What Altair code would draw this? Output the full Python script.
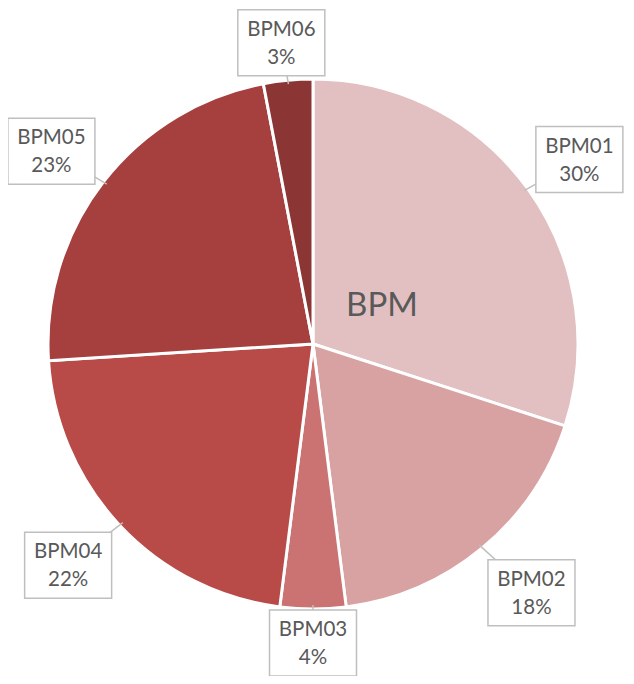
import altair as alt
import pandas as pd

# ---- data ----
categories = ["BPM01", "BPM02", "BPM03", "BPM04", "BPM05", "BPM06"]
values = [30, 18, 4, 22, 23, 3]
colors = ["#E2C0C2", "#D8A1A2", "#CB7373", "#B84A48", "#A5403F", "#8B3535"]
chart_title = "BPM"

# ---- layout (pixels in plot area) ----
W, H = 618, 668
CX, CY = 305, 336
R = 265
LABEL_R = [324, 331, 299, 330, 325, 303]        # label distance from centre
LABEL_DA = [1.3, -1.7, 0.0, 1.1, -1.4, -0.6]   # label angle nudge (degrees)
BOX_W, BOX_H = 87, 66

df = pd.DataFrame({
    "cat": categories,
    "value": values,
    "order": list(range(len(categories))),
    "lr": LABEL_R,
    "da": LABEL_DA,
})

base = alt.Chart(df).transform_joinaggregate(
    total="sum(value)"
).transform_window(
    cum="sum(value)", sort=[alt.SortField("order")], frame=[None, 0]
).transform_calculate(
    mid="(datum.cum - datum.value/2) / datum.total * 2 * PI",
    pct="round(datum.value / datum.total * 100) + '%'",
).transform_calculate(
    lang="datum.mid + datum.da * PI / 180",
).transform_calculate(
    lx=f"{CX} + datum.lr * sin(datum.lang)",
    ly=f"{CY} - datum.lr * cos(datum.lang)",
    ex=f"{CX} + {R - 4} * sin(datum.mid)",
    ey=f"{CY} - {R - 4} * cos(datum.mid)",
    label="[datum.cat, datum.pct]",
).transform_calculate(
    bx1=f"datum.lx - {BOX_W/2}", bx2=f"datum.lx + {BOX_W/2}",
    by1=f"datum.ly - {BOX_H/2}", by2=f"datum.ly + {BOX_H/2}",
)

pie = alt.Chart(df).mark_arc(outerRadius=R, stroke="white", strokeWidth=3).encode(
    theta=alt.Theta("value:Q", stack=True),
    color=alt.Color("cat:N", scale=alt.Scale(domain=categories, range=colors), legend=None),
    order=alt.Order("order:Q"),
    x=alt.value(CX), y=alt.value(CY),
)

leaders = base.mark_rule(color="#BFBFBF", strokeWidth=1.5).encode(
    x=alt.X("ex:Q", scale=None, axis=None),
    y=alt.Y("ey:Q", scale=None, axis=None),
    x2="lx:Q", y2="ly:Q",
)

boxes = base.mark_rect(fill="white", stroke="#BFBFBF", strokeWidth=1.5).encode(
    x=alt.X("bx1:Q", scale=None, axis=None), x2="bx2:Q",
    y=alt.Y("by1:Q", scale=None, axis=None), y2="by2:Q",
)

labels = base.mark_text(font="Lato", fontSize=20.5, color="#595959",
                        lineHeight=28, baseline="middle", align="center", dy=-13).encode(
    x=alt.X("lx:Q", scale=None, axis=None),
    y=alt.Y("ly:Q", scale=None, axis=None),
    text="label:N",
)

title_df = pd.DataFrame({"t": [chart_title]})
center_title = alt.Chart(title_df).mark_text(
    font="Lato", fontSize=33, color="#595959", align="center", baseline="middle"
).encode(x=alt.value(374), y=alt.value(298), text="t:N")

chart = alt.layer(pie, leaders, boxes, labels, center_title).properties(
    width=W, height=H, padding=0, autosize="none"
).configure_view(stroke=None)

chart.save("out.html", embed_options={"renderer": "svg", "actions": False})
